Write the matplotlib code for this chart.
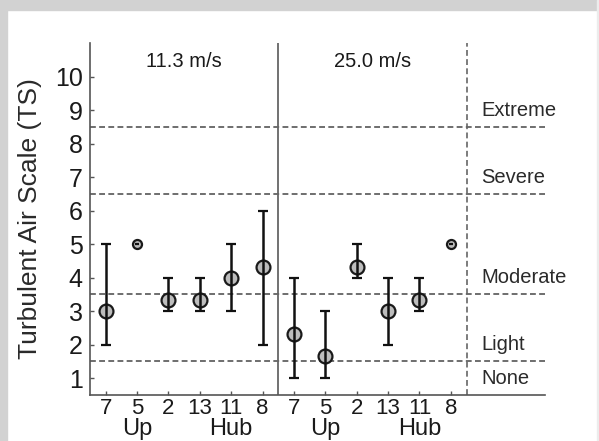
import matplotlib
matplotlib.use("Agg")
import matplotlib.pyplot as plt
from matplotlib.patches import Rectangle
from matplotlib.transforms import blended_transform_factory
import numpy as np

plt.rcParams['font.family'] = ['Liberation Sans', 'DejaVu Sans']

# ---- data ----
tick_labels = ["7", "5", "2", "13", "11", "8", "7", "5", "2", "13", "11", "8"]
group_titles = ["11.3 m/s", "25.0 m/s"]
means = [3.0, 5.0, 3.33, 3.33, 4.0, 4.33,
         2.33, 1.67, 4.33, 3.0, 3.33, 5.0]
lows = [2.0, 5.0, 3.0, 3.0, 3.0, 2.0,
        1.0, 1.0, 4.0, 2.0, 3.0, 5.0]
highs = [5.0, 5.0, 4.0, 4.0, 5.0, 6.0,
         4.0, 3.0, 5.0, 4.0, 4.0, 5.0]
sub_labels = ["Up", "Hub", "Up", "Hub"]
sub_label_at = [2, 5, 8, 11]          # x index (1-based) under which they sit
category_bounds = [1.5, 3.5, 6.5, 8.5]
category_names = ["None", "Light", "Moderate", "Severe", "Extreme"]
category_label_y = [1, 2, 4, 7, 9]
yticks = list(range(1, 11))

W, H = 599, 441
fig = plt.figure(figsize=(W / 100, H / 100), dpi=100)

# light gray frame of the original figure image
fig.patches.append(Rectangle((0, 1 - 10 / H), 1, 10 / H, transform=fig.transFigure,
                             color="#d2d2d2", zorder=-10))
fig.patches.append(Rectangle((0, 0), 7 / W, 1, transform=fig.transFigure,
                             color="#d2d2d2", zorder=-10))
fig.patches.append(Rectangle((1 - 2 / W, 0), 2 / W, 1, transform=fig.transFigure,
                             color="#ececec", zorder=-10))

ax = fig.add_axes([90 / W, 1 - 395 / H, (545 - 90) / W, (395 - 43) / H])

x = np.arange(1, len(means) + 1)
means_a = np.array(means)
lows_a = np.array(lows)
highs_a = np.array(highs)
has_err = highs_a > lows_a

# reference lines
for b in category_bounds:
    ax.axhline(b, color="#555555", lw=1.2, ls=(0, (3.5, 2)), zorder=1)
ax.axvline(6.5, color="#666666", lw=1.3, zorder=1)
ax.axvline(12.5, color="#666666", lw=1.2, ls=(0, (3.5, 2)), zorder=1)

# markers with spread
ax.plot(x[has_err], means_a[has_err], 'o', ms=10, mfc="#bdbdbd", mec="#1a1a1a",
        mew=1.6, ls='none', zorder=3)
ax.errorbar(x[has_err], means_a[has_err],
            yerr=[means_a[has_err] - lows_a[has_err], highs_a[has_err] - means_a[has_err]],
            fmt='none', ecolor="#111111", elinewidth=1.8, capsize=3.5, capthick=1.6,
            zorder=4)
# single-valued points
ax.plot(x[~has_err], means_a[~has_err], 'o', ms=6.5, mfc="#bdbdbd", mec="#1a1a1a",
        mew=1.6, ls='none', zorder=3)
ax.plot(x[~has_err], means_a[~has_err], '_', ms=3.5, mew=1.6, color="#111111",
        ls='none', zorder=4)

ax.set_xlim(0.5, 15)
ax.set_ylim(0.5, 11)
ax.set_xticks(x)
ax.set_xticklabels(tick_labels)
ax.set_yticks(yticks)
ax.tick_params(direction='in', length=3, width=1.0, color="#555555",
               labelcolor="#1a1a1a")
ax.tick_params(axis='x', pad=2, labelsize=16)
ax.tick_params(axis='y', pad=5.2, labelsize=18)

for s in ["top", "right"]:
    ax.spines[s].set_visible(False)
for s in ["left", "bottom"]:
    ax.spines[s].set_color("#555555")
    ax.spines[s].set_linewidth(1.2)

ax.set_ylabel("Turbulent Air Scale (TS)", fontsize=19, color="#2a2a2a")
ax.yaxis.set_label_coords(-0.1055, 0.5)

# group titles
ax.text(3.5, 10.45, group_titles[0], ha='center', va='center', fontsize=14.5, color="#1a1a1a")
ax.text(9.5, 10.45, group_titles[1], ha='center', va='center', fontsize=14.5, color="#1a1a1a")

# category labels
for name, yy in zip(category_names, category_label_y):
    ax.text(12.97, yy, name, ha='left', va='center', fontsize=14.5, color="#2a2a2a")

# sub labels under tick labels
trans = blended_transform_factory(ax.transData, ax.transAxes)
for lab, xi in zip(sub_labels, sub_label_at):
    ax.text(xi, -0.113, lab, transform=trans, ha='center', va='baseline',
            fontsize=17, color="#1a1a1a", clip_on=False)

fig.savefig("out.png", dpi=100)
